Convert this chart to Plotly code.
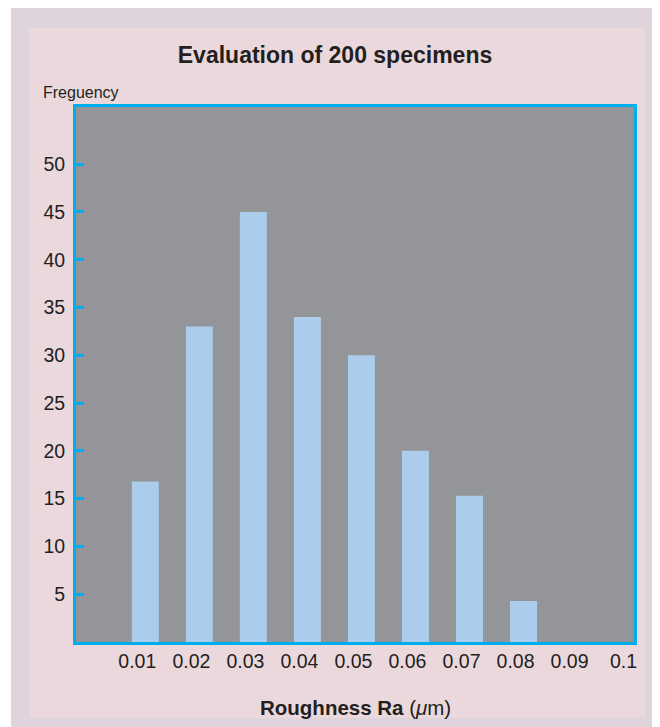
import plotly.graph_objects as go

# ---- data ----
roughness = [0.01, 0.02, 0.03, 0.04, 0.05, 0.06, 0.07, 0.08]
frequency = [16.8, 33, 45, 34, 30, 20, 15.3, 4.3]
x_tickvals = [0.01, 0.02, 0.03, 0.04, 0.05, 0.06, 0.07, 0.08, 0.09, 0.1]
x_ticktext = ["0.01", "0.02", "0.03", "0.04", "0.05", "0.06", "0.07", "0.08", "0.09", "0.1"]
y_tickvals = [5, 10, 15, 20, 25, 30, 35, 40, 45, 50]

# ---- layout geometry (pixels); page has an 8px body margin ----
OFF = 8
W, H = 652, 719
L, R, T, B = 68, 26, 99, 85
PW, PH = W - L - R, H - T - B

def px_x(px):
    return (px - OFF - L) / PW

def px_y(py):
    return (H - B - (py - OFF)) / PH

TEXT = "#231f20"
CYAN = "#00aeef"
FONT = "Liberation Sans, Arial, Helvetica, sans-serif"

fig = go.Figure()
fig.add_trace(go.Bar(
    x=roughness, y=frequency, width=0.005,
    marker=dict(color="#abcdeb", line=dict(width=0)),
    hoverinfo="x+y",
))

shapes = [
    dict(type="rect", xref="paper", yref="paper", layer="below",
         x0=px_x(11), x1=px_x(660), y0=px_y(6), y1=px_y(727),
         fillcolor="#e0d4dc", line=dict(width=0)),
    dict(type="rect", xref="paper", yref="paper", layer="below",
         x0=px_x(29), x1=px_x(645), y0=px_y(28), y1=px_y(718),
         fillcolor="#ead8dc", line=dict(width=0)),
    dict(type="rect", xref="paper", yref="paper", layer="below",
         x0=0, x1=1, y0=0, y1=1,
         fillcolor="#939598", line=dict(width=0)),
]

fig.update_layout(
    width=W, height=H,
    margin=dict(l=L, r=R, t=T, b=B, pad=0),
    paper_bgcolor="#ffffff",
    plot_bgcolor="rgba(0,0,0,0)",
    showlegend=False,
    shapes=shapes,
    font=dict(family=FONT, color=TEXT, size=19.5),
    title=dict(text="<b>Evaluation of 200 specimens</b>",
               xref="container", yref="container",
               x=(335 - OFF) / W, y=1 - (55 - OFF) / H,
               xanchor="center", yanchor="middle",
               font=dict(family=FONT, size=23, color=TEXT)),
    xaxis=dict(range=[-0.00283, 0.10045], tickvals=x_tickvals, ticktext=x_ticktext,
               showgrid=False, zeroline=False, ticks="",
               showline=True, mirror=True, linecolor=CYAN, linewidth=3,
               ticklabelshift=-8, ticklabelstandoff=0,
               tickfont=dict(size=19.5, color=TEXT)),
    yaxis=dict(range=[0, 55.98], tickvals=y_tickvals,
               showgrid=False, zeroline=False, ticks="inside", ticklen=8,
               tickwidth=3, tickcolor=CYAN,
               showline=True, mirror=True, linecolor=CYAN, linewidth=3,
               ticklabelstandoff=4,
               tickfont=dict(size=19.5, color=TEXT)),
    annotations=[
        dict(text="Freguency", xref="paper", yref="paper",
             x=px_x(41), y=px_y(93), xanchor="left", yanchor="middle",
             showarrow=False,
             font=dict(family=FONT, size=16, color=TEXT)),
        dict(text="<b>Roughness Ra</b> (<i>μ</i>m)", xref="paper", yref="paper",
             x=px_x(355), y=px_y(707), xanchor="center", yanchor="middle",
             showarrow=False, font=dict(family=FONT, size=20.5, color=TEXT)),
    ],
)

fig.write_html("out.html")
